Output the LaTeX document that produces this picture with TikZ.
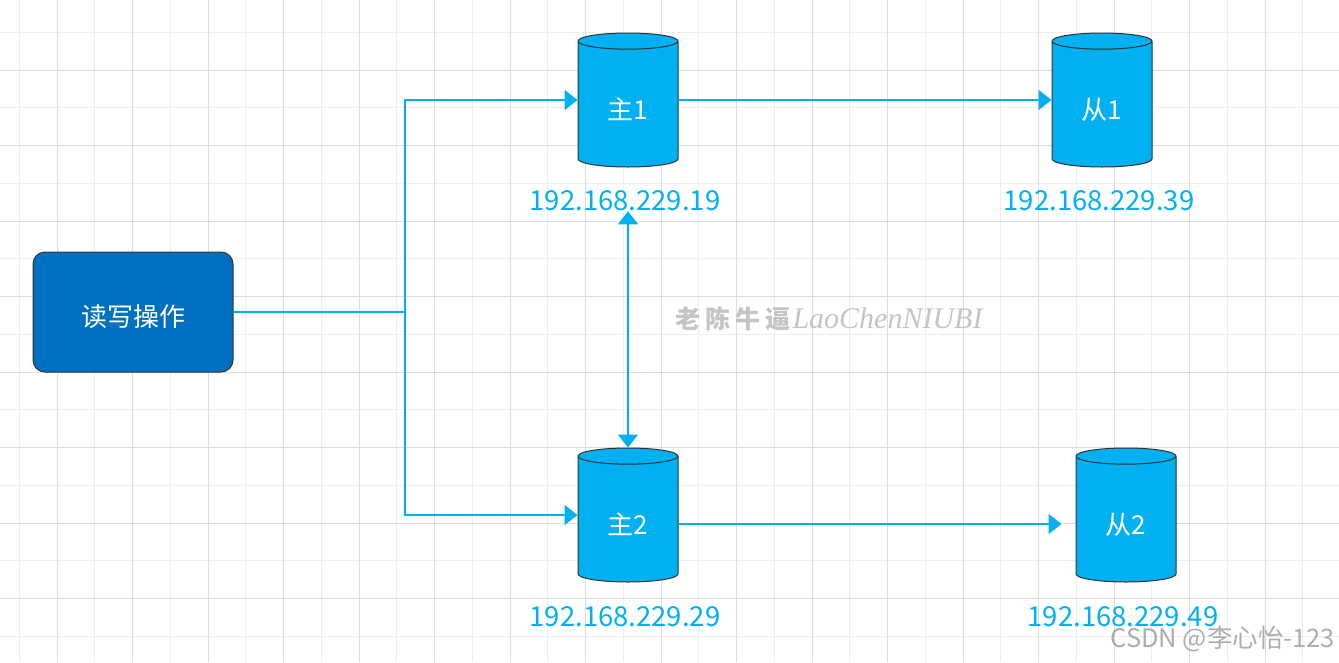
\documentclass[tikz,border=0pt]{standalone}
\usepackage{fontspec}
\setmainfont{Noto Sans CJK SC}
\newfontfamily\wmlatin{Liberation Serif}
\usetikzlibrary{shapes.geometric, arrows.meta}
\definecolor{sky}{HTML}{00B0F0}
\definecolor{deep}{HTML}{0070C0}
\definecolor{edge}{HTML}{333333}
\definecolor{gridlight}{HTML}{EEEEEE}
\definecolor{griddark}{HTML}{DCDCDC}
\definecolor{wmgrey}{HTML}{C4C4C4}
\tikzstyle{db}=[cylinder, shape border rotate=90, aspect=0.4, anchor=shape center, draw=edge, line width=1pt, cylinder uses custom fill, cylinder body fill=sky, cylinder end fill=sky, minimum width=100pt, minimum height=134pt, inner sep=0pt, text height=32pt, text depth=2pt, text=white, font=\fontsize{26}{30}\selectfont]
\tikzstyle{ip}=[text=sky, inner sep=0pt, font=\fontsize{27.5}{32}\selectfont]
\tikzstyle{task}=[rectangle, rounded corners=12pt, draw=edge, line width=1pt, fill=deep, minimum width=200pt, minimum height=120pt, text height=30pt, text depth=2pt, text=white, font=\fontsize{26}{30}\selectfont]
\tikzstyle{link}=[draw=sky, line width=2pt, >={Triangle[length=13pt, width=20pt]}]
\newcommand{\db}{\node[db]}
\newcommand{\ip}{\node[ip]}

\begin{document}
\begin{tikzpicture}[x=1pt, y=-1pt]
\useasboundingbox (0,0) rectangle (1339,662);
% grid
\foreach \x in {19,94.5,...,1340} \draw[gridlight, line width=1pt] (\x,0) -- (\x,662);
\foreach \y in {32,107.5,...,662} \draw[gridlight, line width=1pt] (0,\y) -- (1339,\y);
\foreach \x in {57,132.5,...,1340} \draw[griddark, line width=1pt] (\x,0) -- (\x,662);
\foreach \y in {70,145.5,...,662} \draw[griddark, line width=1pt] (0,\y) -- (1339,\y);

\node[task] (rw) at (133,312) {读写操作};
\coordinate (j) at (405,312);
\db (m1) at (628,100) {主1};
\db (s1) at (1102,100) {从1};
\db (m2) at (628,515) {主2};
\db (s2) at (1126,515) {从2};
\ip (ip1) at (625,201) {192.168.229.19};
\ip (ip2) at (1099,201) {192.168.229.39};
\ip (ip3) at (625,617) {192.168.229.29};
\ip (ip4) at (1123,617) {192.168.229.49};

\draw[link] (rw.east) -- (j);
\draw[link, ->] (j) |- (m1.shape center -| m1.west);
\draw[link, ->] (j) |- (m2.shape center -| m2.west);
\draw[link, ->] (m1.shape center -| m1.east) -- (s1.shape center -| s1.west);
\draw[link, ->, shorten >=14pt] ([yshift=-9pt]m2.shape center -| m2.east) -- ([yshift=-9pt]m2.shape center -| s2.west);
\draw[link, <->] (m2.north) -- (m2.north |- ip1.south);

\node[text=wmgrey, inner sep=0pt] (wm) at (829,319) {\fontsize{25}{28}\selectfont\bfseries 老\hspace{5pt}陈\hspace{5pt}牛\hspace{5pt}逼\hspace{2pt}{\wmlatin\mdseries\itshape\fontsize{30}{30}\selectfont LaoChenNIUBI}};
\node[text=gray!75, opacity=0.85, anchor=east, inner sep=0pt] (csdn) at (1335,639) {\fontsize{25.5}{30}\selectfont CSDN @李心怡-123};
\end{tikzpicture}
\end{document}
